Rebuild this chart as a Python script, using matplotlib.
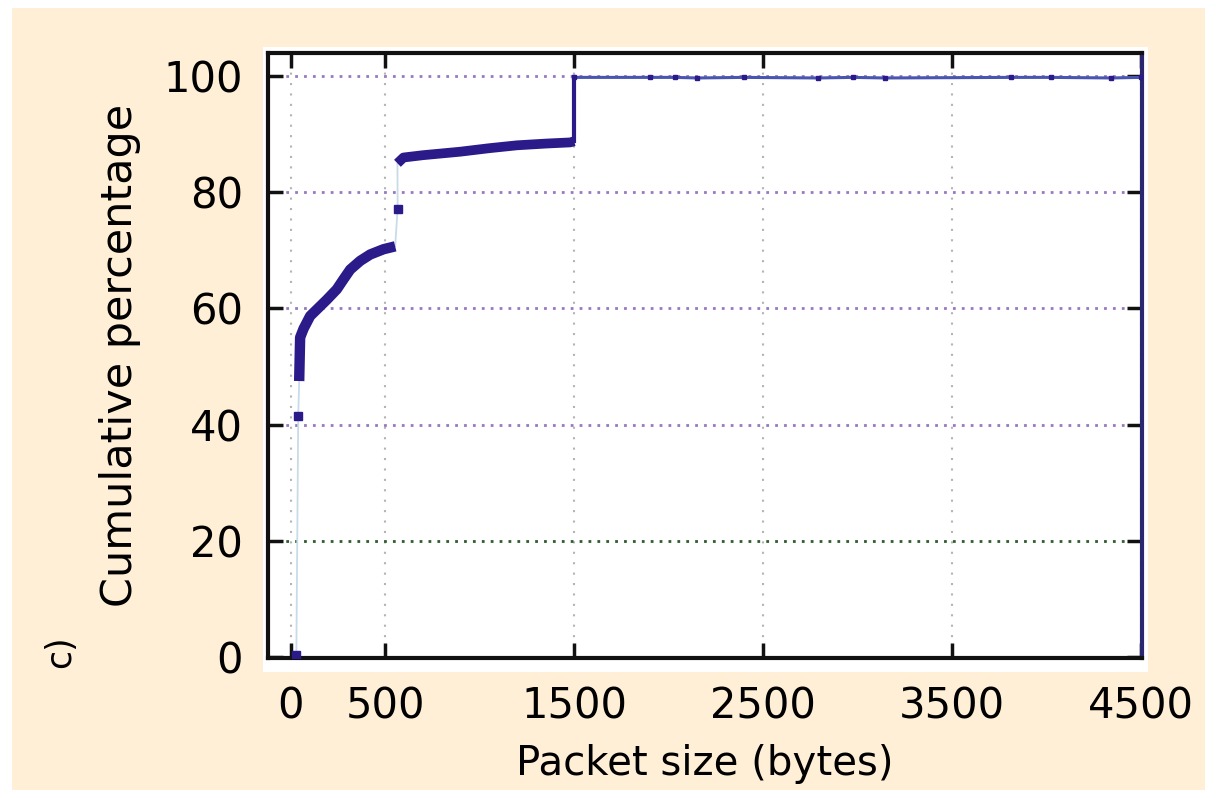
import matplotlib
matplotlib.use('Agg')
import matplotlib.pyplot as plt
from matplotlib.patches import Rectangle

# packet size (bytes) vs cumulative percentage
low_x = [45, 50, 68, 103, 147, 191, 244, 279, 315, 368, 421, 491, 553]
low_y = [47.5, 55.0, 56.5, 58.7, 60.1, 61.5, 63.3, 65.0, 66.7, 68.2, 69.3, 70.2, 70.7]
mid_x = [565, 597, 700, 897, 1050, 1197, 1350, 1479, 1500]
mid_y = [85.0, 86.0, 86.4, 87.0, 87.6, 88.1, 88.4, 88.6, 88.8]
jump_x = [1500, 1500]
jump_y = [88.8, 99.8]
tail_x = [1500, 1900, 2034, 2150, 2398, 2791, 2975, 3143, 3811, 4026, 4341, 4500]
tail_y = [99.8, 99.8, 99.8, 99.7, 99.8, 99.7, 99.8, 99.7, 99.8, 99.8, 99.7, 99.8]
lone_x = [30, 40, 566]
lone_y = [0.3, 41.5, 77.2]

xticks = [0, 500, 1500, 2500, 3500, 4500]
yticks = [0, 20, 40, 60, 80, 100]

ink = '#2a1a8a'

fig = plt.figure(figsize=(12.16, 7.98), dpi=100, facecolor='white')
# beige panel and the white box behind the plot
fig.patches.append(Rectangle((12 / 1216, 1 - 790 / 798), 1193 / 1216, 782 / 798,
                             transform=fig.transFigure, facecolor='#ffefd6',
                             edgecolor='none', zorder=-2))
fig.patches.append(Rectangle((263 / 1216, 1 - 672 / 798), 885 / 1216, 625 / 798,
                             transform=fig.transFigure, facecolor='white',
                             edgecolor='none', zorder=-1))

ax = fig.add_axes([268 / 1216, 1 - 658 / 798, 874 / 1216, 605 / 798])
ax.set_facecolor('white')

# thin light connector through every point
all_x = lone_x[:2] + low_x + [lone_x[2]] + mid_x + tail_x
all_y = lone_y[:2] + low_y + [lone_y[2]] + mid_y + tail_y
ax.plot(all_x, all_y, color='#c8dce8', lw=1.3, zorder=3)

ax.plot(low_x, low_y, color=ink, lw=7.5, solid_capstyle='butt', zorder=4)
ax.plot(mid_x, mid_y, color=ink, lw=7, solid_capstyle='butt', zorder=4)
ax.plot(jump_x, jump_y, color=ink, lw=3, zorder=4)
ax.plot(tail_x, tail_y, color='#4a55b0', lw=2.2, zorder=4,
        marker='s', ms=3.5, mfc=ink, mec=ink)
ax.plot(lone_x, lone_y, ls='none', marker='s', ms=6, color=ink, zorder=5)

ax.set_xlim(-120, 4505)
ax.set_ylim(-0.2, 104)
ax.set_xticks(xticks)
ax.set_xticklabels([str(v) for v in xticks])
ax.set_yticks(yticks)
ax.set_yticklabels([str(v) for v in yticks])

ax.grid(axis='y', color='#9878c0', lw=2, ls=(0, (1, 2.2)))
ax.grid(axis='x', color='#b4b4b4', lw=1.5, ls=(0, (1, 4)))
ax.get_ygridlines()[1].set_color('#2e5e2e')
ax.set_axisbelow(True)

for s in ax.spines.values():
    s.set_linewidth(3)
    s.set_color('#111111')
ax.spines['right'].set_color('#2a2670')

ax.tick_params(direction='in', top=True, right=True, length=11, width=2.5,
               labelsize=30, color='#111111')
ax.tick_params(axis='y', pad=18)
ax.tick_params(axis='x', pad=20)

ax.set_xlabel('Packet size (bytes)', fontsize=29, labelpad=12)
ax.set_ylabel('Cumulative percentage', fontsize=31, labelpad=16)
fig.text(60 / 1216, 1 - 652 / 798, 'c)', rotation=90, fontsize=25,
         ha='center', va='center')

fig.savefig('out.png', dpi=100, facecolor='white')
